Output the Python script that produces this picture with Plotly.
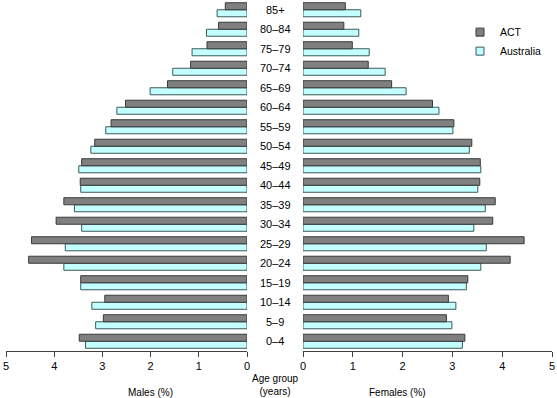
import plotly.graph_objects as go

age_groups = ["0–4", "5–9", "10–14", "15–19", "20–24", "25–29", "30–34", "35–39",
              "40–44", "45–49", "50–54", "55–59", "60–64", "65–69", "70–74", "75–79",
              "80–84", "85+"]

male_act = [3.48, 2.98, 2.95, 3.45, 4.53, 4.47, 3.96, 3.80, 3.46, 3.43, 3.16, 2.82,
            2.52, 1.65, 1.17, 0.83, 0.59, 0.45]
male_aus = [3.35, 3.14, 3.22, 3.45, 3.80, 3.77, 3.43, 3.58, 3.45, 3.49, 3.24, 2.93,
            2.70, 2.01, 1.54, 1.14, 0.84, 0.62]
female_act = [3.25, 2.88, 2.92, 3.31, 4.16, 4.44, 3.81, 3.86, 3.55, 3.56, 3.39, 3.03,
              2.60, 1.78, 1.31, 0.99, 0.82, 0.85]
female_aus = [3.20, 2.99, 3.07, 3.28, 3.57, 3.68, 3.43, 3.66, 3.51, 3.57, 3.34, 3.01,
              2.73, 2.07, 1.65, 1.33, 1.12, 1.16]

ticks = [0, 1, 2, 3, 4, 5]
series_names = ["ACT", "Australia"]

W, H = 557, 398
ACT_FILL, ACT_LINE = "#808080", "#3a3a3a"
AUS_FILL, AUS_LINE = "#c4ffff", "#3a5a5a"
FONT = "Liberation Sans, Arial, sans-serif"

fig = go.Figure()
# Australia first (lower in each group), ACT second (upper)
for xa, aus, act in (("x", male_aus, male_act), ("x2", female_aus, female_act)):
    fig.add_trace(go.Bar(y=age_groups, x=aus, orientation="h", name=series_names[1],
                         marker=dict(color=AUS_FILL, line=dict(color=AUS_LINE, width=1)),
                         xaxis=xa, yaxis="y", showlegend=False))
    fig.add_trace(go.Bar(y=age_groups, x=act, orientation="h", name=series_names[0],
                         marker=dict(color=ACT_FILL, line=dict(color=ACT_LINE, width=1)),
                         xaxis=xa, yaxis="y", showlegend=False))

# legend entries with small square swatches
for name, fill, line, rank in ((series_names[0], ACT_FILL, ACT_LINE, 1),
                               (series_names[1], AUS_FILL, AUS_LINE, 2)):
    fig.add_trace(go.Scatter(x=[None], y=[None], mode="markers", name=name,
                             marker=dict(symbol="square", size=8, color=fill,
                                         line=dict(color=line, width=1)),
                             xaxis="x2", yaxis="y", showlegend=True, legendrank=rank))

axis_common = dict(showgrid=False, zeroline=False, showline=True, linecolor="#404040",
                   linewidth=1, ticks="outside", ticklen=5, tickcolor="#404040",
                   tickvals=ticks, ticktext=[str(t) for t in ticks],
                   tickfont=dict(family=FONT, size=11, color="#000000"), fixedrange=True,
                   automargin=False)

fig.update_layout(
    width=W, height=H,
    margin=dict(l=0, r=0, t=0, b=47, autoexpand=False),
    paper_bgcolor="white", plot_bgcolor="white",
    barmode="group", bargap=0.28, bargroupgap=0,
    font=dict(family=FONT, size=11, color="#000000"),
    xaxis=dict(domain=[6 / W, 247 / W], range=[5, 0], anchor="y", **axis_common),
    xaxis2=dict(domain=[303 / W, 552 / W], range=[0, 5], anchor="y", **axis_common),
    yaxis=dict(showticklabels=False, showgrid=False, zeroline=False, showline=False,
               ticks="", fixedrange=True, range=[-0.5, len(age_groups) - 0.5]),
    legend=dict(x=460 / W, y=1 - 20 / H, xanchor="left", yanchor="top",
                font=dict(family=FONT, size=10.5), bgcolor="rgba(0,0,0,0)",
                itemwidth=30, tracegroupgap=0, itemsizing="trace"),
    showlegend=True,
)

for g in age_groups:
    fig.add_annotation(x=275 / W, xref="paper", y=g, yref="y", text=g, showarrow=False,
                       font=dict(family=FONT, size=11), xanchor="center", yanchor="middle")

fig.add_annotation(x=126 / W, xref="paper", y=-41 / 351, yref="paper", text="Males (%)",
                   showarrow=False, font=dict(family=FONT, size=10), yanchor="middle")
fig.add_annotation(x=428 / W, xref="paper", y=-41 / 351, yref="paper", text="Females (%)",
                   showarrow=False, font=dict(family=FONT, size=10), yanchor="middle")
fig.add_annotation(x=275 / W, xref="paper", y=-34 / 351, yref="paper",
                   text="Age group<br>(years)", showarrow=False,
                   font=dict(family=FONT, size=10), yanchor="middle")

fig.write_html("out.html",
               config={"displayModeBar": False, "staticPlot": True},
               post_script="document.body.style.margin='0';"
                           "document.documentElement.style.overflow='hidden';")
